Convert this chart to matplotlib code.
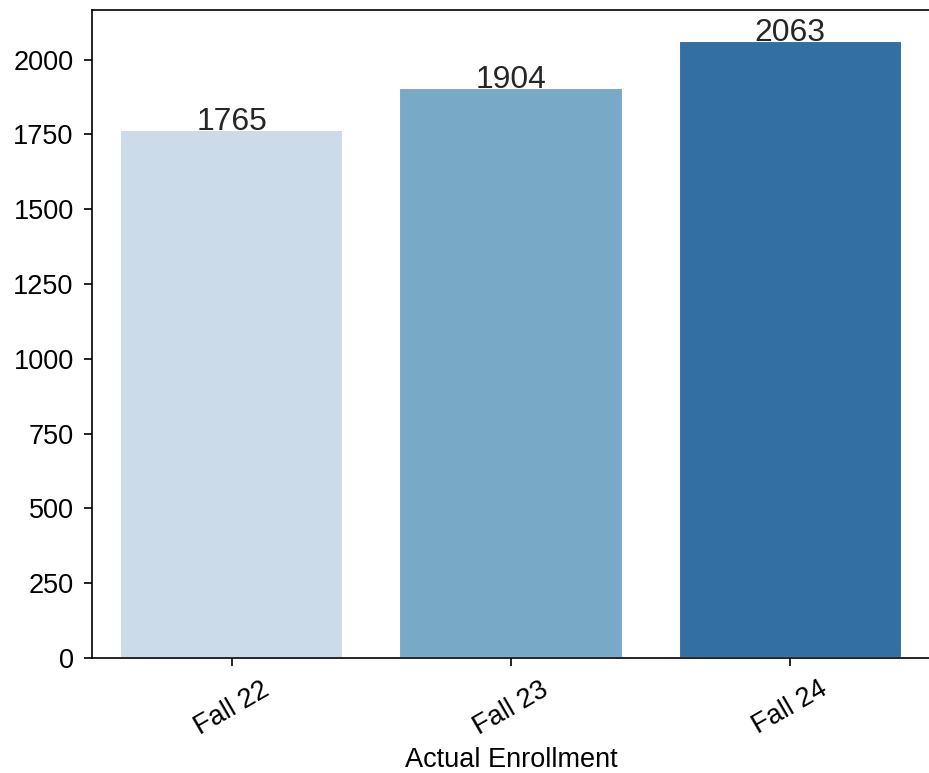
import matplotlib
matplotlib.use("Agg")
import matplotlib.pyplot as plt
import seaborn as sns

categories = ["Fall 22", "Fall 23", "Fall 24"]
enrollment = [1765, 1904, 2063]
x_label = "Actual Enrollment"

sns.set_style("ticks")
plt.rcParams['font.family'] = ['Liberation Sans', 'DejaVu Sans']

fig = plt.figure(figsize=(929/150, 773/150), dpi=150)
ax = fig.add_axes([92/929, (773-658)/773, 838/929, 648/773])

sns.barplot(x=categories, y=enrollment, hue=categories, palette="Blues",
            legend=False, ax=ax)

for i, v in enumerate(enrollment):
    ax.text(i, v, str(v), ha='center', va='baseline', fontsize=15.3, color='#262626')

ax.set_xlim(-0.5, 2.5)
ax.set_ylim(0, max(enrollment) * 1.05)
ax.set_yticks(range(0, 2001, 250))
ax.tick_params(axis='both', labelsize=13, colors='black', labelcolor='black',
               length=3.8, pad=5)
for lab in ax.get_xticklabels():
    lab.set_rotation(30)
ax.set_xlabel(x_label, fontsize=13, color='black', labelpad=3.5)
ax.set_ylabel("")
for s in ax.spines.values():
    s.set_color('black')

fig.savefig("out.png", dpi=150)
